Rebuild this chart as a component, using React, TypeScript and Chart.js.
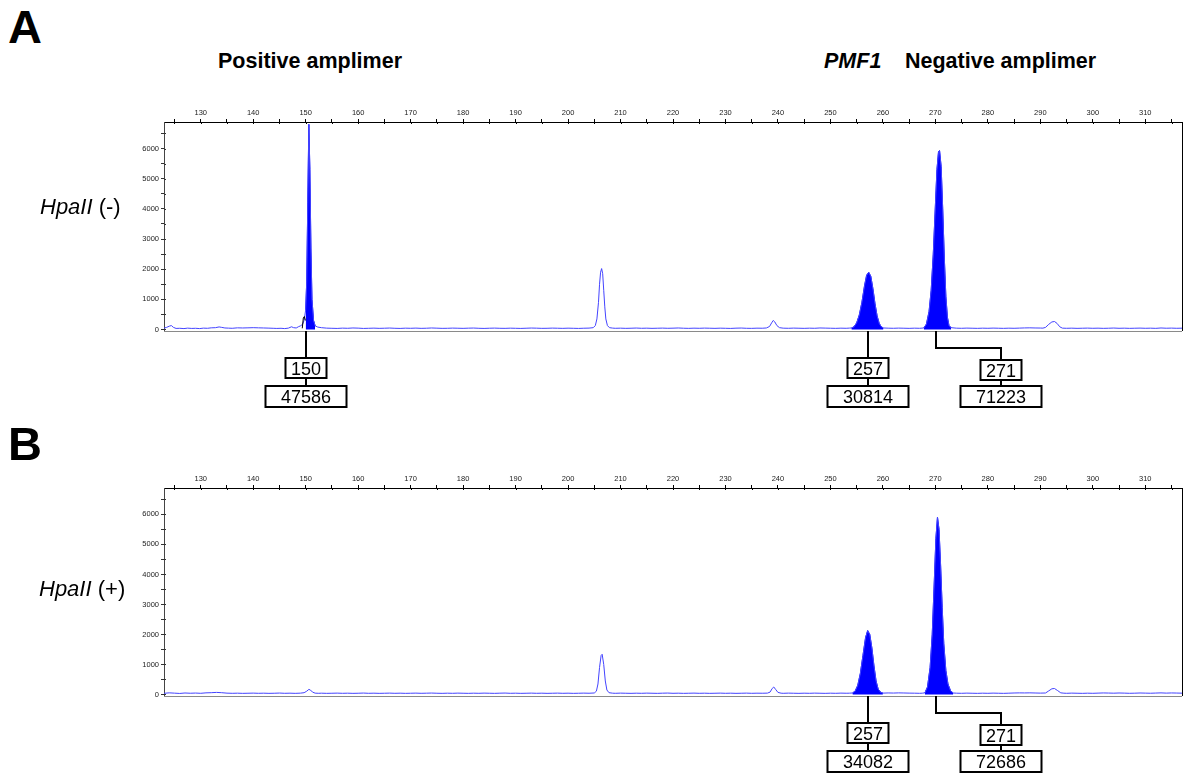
import React, { useEffect, useRef } from "react";
import { Chart, registerables } from "chart.js";

Chart.register(...registerables);

// ---------- data ----------
const sizeMin = 123;
const sizeMax = 317;
const rfuMin = -50;
const rfuMax = 6880;
const sizeTicks = [125, 130, 135, 140, 145, 150, 155, 160, 165, 170, 175, 180, 185, 190, 195, 200, 205, 210, 215, 220, 225, 230, 235, 240, 245, 250, 255, 260, 265, 270, 275, 280, 285, 290, 295, 300, 305, 310, 315];
const rfuTicks = [0, 500, 1000, 1500, 2000, 2500, 3000, 3500, 4000, 4500, 5000, 5500, 6000, 6500];

// Panel A: HpaII (-) electropherogram trace [size (bp), RFU]
const traceA: [number, number][] = [
  [123, 45], [123.5, 70], [124, 110], [124.4, 130], [124.8, 70], [125.3, 35], [126, 40], [126.8, 30], [127.5, 45], [128.3, 35],
  [129, 40], [129.8, 30], [130.5, 45], [131.3, 40], [132, 55], [132.8, 60], [133.5, 85], [134, 70], [134.6, 50], [135.3, 45],
  [136, 40], [137, 55], [138, 50], [139, 55], [140, 60], [141, 55], [142, 50], [143, 45], [143.8, 40], [144.5, 35],
  [145.3, 40], [146, 30], [146.7, 45], [147.3, 90], [147.7, 60], [148.2, 50], [148.6, 90], [149.0, 120], [149.4, 170], [149.7, 300],
  [150.0, 650], [150.2, 1600], [150.4, 4200], [150.6, 6800], [150.8, 5300], [151.0, 2700], [151.2, 1000], [151.5, 300], [151.8, 120], [152.3, 80],
  [153, 60], [154, 45], [155, 40], [156, 35], [157, 45], [158, 40], [159, 50], [160, 45], [161, 35], [162, 40],
  [163, 45], [164, 38], [165, 42], [166, 48], [167, 40], [168, 36], [169, 44], [170, 40], [171, 46], [172, 38],
  [173, 42], [174, 50], [175, 44], [176, 38], [177, 40], [178, 46], [179, 42], [180, 38], [181, 44], [182, 48],
  [183, 40], [184, 36], [185, 42], [186, 46], [187, 40], [188, 38], [189, 44], [190, 40], [191, 36], [192, 42],
  [193, 48], [194, 44], [195, 38], [196, 40], [197, 46], [198, 42], [199, 38], [200, 44], [201, 40], [202, 36],
  [203, 42], [204, 46], [204.8, 60], [205.2, 130], [205.5, 350], [205.8, 900], [206.0, 1500], [206.2, 1900], [206.4, 2020], [206.6, 1850],
  [206.8, 1300], [207.0, 750], [207.2, 350], [207.5, 130], [207.9, 60], [208.5, 46], [209, 40], [210, 44], [211, 38], [212, 42],
  [213, 48], [214, 40], [215, 44], [216, 38], [217, 42], [218, 46], [219, 40], [220, 44], [221, 50], [222, 42],
  [223, 38], [224, 44], [225, 40], [226, 46], [227, 42], [228, 38], [229, 44], [230, 40], [231, 36], [232, 44],
  [233, 48], [234, 40], [235, 38], [236, 44], [237, 42], [237.8, 50], [238.4, 100], [238.8, 220], [239.1, 300], [239.4, 250],
  [239.8, 130], [240.3, 60], [241, 44], [242, 40], [243, 46], [244, 42], [245, 38], [246, 44], [247, 40], [248, 50],
  [249, 46], [250, 42], [251, 38], [252, 44], [253, 40], [253.6, 46], [254.0, 50], [254.5, 90], [255.0, 220], [255.5, 480],
  [256.0, 900], [256.5, 1450], [256.9, 1800], [257.3, 1900], [257.7, 1760], [258.1, 1350], [258.5, 850], [258.9, 450], [259.3, 200], [259.7, 90],
  [260.1, 50], [261, 44], [262, 40], [263, 46], [264, 42], [265, 38], [266, 44], [267, 40], [267.8, 50], [268.3, 180],
  [268.8, 600], [269.2, 1300], [269.6, 2500], [270.0, 4100], [270.3, 5300], [270.6, 5900], [270.8, 5930], [271.1, 5400], [271.4, 4000], [271.7, 2400],
  [272.0, 1100], [272.3, 400], [272.6, 130], [273.0, 60], [274, 44], [275, 40], [276, 46], [277, 42], [278, 38], [279, 44],
  [280, 40], [281, 46], [282, 42], [283, 38], [284, 44], [285, 40], [286, 46], [287, 52], [288, 55], [289, 50],
  [290, 48], [290.5, 45], [291.0, 70], [291.6, 170], [292.2, 250], [292.7, 265], [293.2, 200], [293.7, 90], [294.2, 45], [295, 40],
  [296, 44], [297, 38], [298, 42], [299, 46], [300, 40], [301, 44], [302, 38], [303, 42], [304, 48], [305, 40],
  [306, 44], [307, 38], [308, 42], [309, 46], [310, 40], [311, 44], [312, 38], [313, 50], [314, 42], [315, 46],
  [316, 40], [317, 44],
];
// second dye (black) shoulder next to the 150 bp peak in panel A
const blackA: [number, number][] = [[149.35, 40], [149.55, 380], [149.75, 430], [149.95, 300]];
const fillRangesA: [number, number][] = [[150.0, 151.8], [254.0, 260.1], [267.8, 273.0]];
const calledSizesA = [150, 257, 271];
const peakAreasA = [47586, 30814, 71223];
const markerSizesA = [150.05, 257.2, 270.05];

// Panel B: HpaII (+) electropherogram trace
const traceB: [number, number][] = [
  [123, 40], [124, 55], [125, 45], [126, 35], [127, 50], [128, 42], [129, 48], [130, 40], [131, 55], [132, 60],
  [133, 70], [134, 60], [135, 45], [136, 40], [137, 44], [138, 38], [139, 42], [140, 46], [141, 40], [142, 44],
  [143, 38], [144, 42], [145, 48], [146, 40], [147, 44], [148, 38], [149, 45], [149.7, 60], [150.2, 110], [150.6, 170],
  [150.9, 150], [151.3, 80], [151.8, 45], [152.5, 40], [153, 44], [154, 38], [155, 42], [156, 46], [157, 40], [158, 44],
  [159, 38], [160, 42], [161, 48], [162, 40], [163, 44], [164, 38], [165, 42], [166, 46], [167, 40], [168, 44],
  [169, 38], [170, 42], [171, 46], [172, 40], [173, 44], [174, 48], [175, 42], [176, 38], [177, 44], [178, 40],
  [179, 46], [180, 42], [181, 38], [182, 44], [183, 40], [184, 46], [185, 42], [186, 38], [187, 44], [188, 48],
  [189, 40], [190, 44], [191, 38], [192, 42], [193, 46], [194, 40], [195, 44], [196, 38], [197, 42], [198, 46],
  [199, 40], [200, 44], [201, 38], [202, 42], [203, 46], [204, 42], [205, 50], [205.4, 110], [205.7, 350], [206.0, 900],
  [206.3, 1300], [206.5, 1340], [206.8, 1000], [207.1, 450], [207.4, 150], [207.8, 60], [208.5, 44], [209, 40], [210, 46], [211, 42],
  [212, 38], [213, 44], [214, 40], [215, 46], [216, 42], [217, 38], [218, 44], [219, 48], [220, 40], [221, 44],
  [222, 38], [223, 42], [224, 46], [225, 40], [226, 44], [227, 38], [228, 42], [229, 46], [230, 40], [231, 44],
  [232, 38], [233, 42], [234, 46], [235, 40], [236, 44], [237, 42], [238, 46], [238.5, 80], [238.9, 200], [239.2, 250],
  [239.6, 160], [240.0, 70], [240.6, 44], [241, 40], [242, 46], [243, 42], [244, 38], [245, 44], [246, 40], [247, 46],
  [248, 42], [249, 38], [250, 44], [251, 40], [252, 46], [253, 42], [253.6, 44], [254.2, 50], [254.7, 110], [255.2, 300],
  [255.7, 700], [256.2, 1300], [256.7, 1900], [257.1, 2130], [257.5, 2000], [257.9, 1550], [258.3, 950], [258.7, 450], [259.1, 180], [259.6, 70],
  [260.0, 46], [261, 52], [262, 48], [263, 54], [264, 50], [265, 46], [266, 44], [267, 40], [267.5, 44], [268.0, 55],
  [268.5, 250], [269.0, 900], [269.4, 2000], [269.8, 3800], [270.1, 5200], [270.4, 5910], [270.7, 5500], [271.0, 4300], [271.3, 2900], [271.6, 1700],
  [272.0, 800], [272.4, 350], [272.9, 120], [273.4, 50], [274, 44], [275, 40], [276, 46], [277, 42], [278, 38], [279, 44],
  [280, 40], [281, 46], [282, 42], [283, 38], [284, 44], [285, 50], [286, 54], [287, 52], [288, 55], [289, 50],
  [290, 46], [291, 50], [291.6, 120], [292.2, 190], [292.7, 200], [293.3, 130], [293.9, 55], [294.5, 44], [295, 40], [296, 46],
  [297, 42], [298, 38], [299, 44], [300, 40], [301, 46], [302, 52], [303, 48], [304, 44], [305, 50], [306, 46],
  [307, 40], [308, 44], [309, 50], [310, 46], [311, 42], [312, 48], [313, 54], [314, 46], [315, 52], [316, 48],
  [317, 44],
];
const blackB: [number, number][] = [];
const fillRangesB: [number, number][] = [[254.2, 260.0], [268.0, 273.4]];
const calledSizesB = [257, 271];
const peakAreasB = [34082, 72686];
const markerSizesB = [257.2, 270.05];

// ---------- styling / layout ----------
const FONT = '"Liberation Sans", Arial, Helvetica, sans-serif';
const TRACE_COLOR = "#4343ff";
const FILL_COLOR = "#0000ff";

const framePlugin = {
  id: "frame",
  afterDraw(chart: any, _args: any, opts: any) {
    const { ctx, chartArea, scales } = chart;
    const { left, right, top, bottom } = chartArea;
    const xs = scales.x;
    const ys = scales.y;
    ctx.save();
    // right and bottom frame
    ctx.lineWidth = 1;
    ctx.strokeStyle = "#000";
    ctx.beginPath();
    ctx.moveTo(Math.round(right) + 0.5, top);
    ctx.lineTo(Math.round(right) + 0.5, bottom);
    ctx.stroke();
    ctx.strokeStyle = "#8a8a8a";
    ctx.beginPath();
    ctx.moveTo(left, Math.round(bottom) + 0.5);
    ctx.lineTo(right, Math.round(bottom) + 0.5);
    ctx.stroke();
    // inner parts of the tick marks
    ctx.strokeStyle = "#000";
    ctx.beginPath();
    xs.ticks.forEach((t: any) => {
      const px = Math.round(xs.getPixelForValue(t.value)) + 0.5;
      ctx.moveTo(px, top);
      ctx.lineTo(px, top + 2);
    });
    ctx.stroke();
    ctx.strokeStyle = "#333";
    ctx.beginPath();
    ys.ticks.forEach((t: any) => {
      const py = Math.round(ys.getPixelForValue(t.value)) + 0.5;
      ctx.moveTo(left, py);
      ctx.lineTo(left + 2, py);
    });
    ctx.stroke();

    // peak call labels
    const sizes: number[] = opts.sizes;
    const areas: number[] = opts.areas;
    const markers: number[] = opts.markers;
    const shifts: number[] = opts.shifts;
    const b = Math.round(bottom);
    ctx.strokeStyle = "#000";
    ctx.fillStyle = "#000";
    ctx.lineWidth = 2;
    ctx.font = `18px ${FONT}`;
    ctx.textAlign = "center";
    ctx.textBaseline = "alphabetic";
    markers.forEach((m, i) => {
      const px = Math.round(xs.getPixelForValue(m));
      const shift = shifts[i] || 0;
      const bx = px + shift;
      const sizeTop = b + (shift ? 28 : 26);
      const areaTop = b + 54;
      ctx.beginPath();
      if (shift) {
        ctx.moveTo(px, b);
        ctx.lineTo(px, b + 17);
        ctx.lineTo(bx, b + 17);
        ctx.lineTo(bx, sizeTop);
      } else {
        ctx.moveTo(px, b);
        ctx.lineTo(px, sizeTop);
      }
      ctx.moveTo(bx, sizeTop + 22);
      ctx.lineTo(bx, areaTop);
      ctx.stroke();
      ctx.strokeRect(bx - 20.5, sizeTop + 1, 41, 20);
      ctx.strokeRect(bx - 40.5, areaTop + 1, 81, 21);
      ctx.fillText(String(sizes[i]), bx, sizeTop + 11 + 6.5);
      ctx.fillText(String(areas[i]), bx, areaTop + 11.5 + 6.5);
    });
    ctx.restore();
  },
};

function pts(arr: [number, number][]) {
  return arr.map(([x, y]) => ({ x, y }));
}

function makeConfig(
  trace: [number, number][],
  black: [number, number][],
  fillRanges: [number, number][],
  sizes: number[],
  areas: number[],
  markers: number[],
  shifts: number[],
  padBottom: number
): any {
  const fills = fillRanges.map(([a, z]) => ({
    data: pts(trace.filter(([x]) => x >= a && x <= z)),
    showLine: true,
    fill: "origin",
    backgroundColor: FILL_COLOR,
    borderColor: FILL_COLOR,
    borderWidth: 1,
    pointRadius: 0,
    tension: 0,
    order: 2,
  }));
  const tickFont = { family: FONT, size: 7.5 };
  return {
    type: "scatter",
    data: {
      datasets: [
        ...fills,
        {
          data: pts(trace),
          showLine: true,
          fill: false,
          borderColor: TRACE_COLOR,
          borderWidth: 1,
          pointRadius: 0,
          tension: 0,
          order: 1,
        },
        {
          data: pts(black),
          showLine: true,
          fill: false,
          borderColor: "#000",
          borderWidth: 1,
          pointRadius: 0,
          tension: 0,
          order: 0,
        },
      ],
    },
    options: {
      animation: false,
      responsive: false,
      devicePixelRatio: 1,
      layout: { padding: { left: 0, right: 5, top: 0, bottom: padBottom } },
      plugins: {
        legend: { display: false },
        tooltip: { enabled: false },
        frame: { sizes, areas, markers, shifts },
      },
      scales: {
        x: {
          type: "linear",
          position: "top",
          min: sizeMin,
          max: sizeMax,
          afterBuildTicks: (s: any) => {
            s.ticks = sizeTicks.map((v) => ({ value: v }));
          },
          afterFit: (s: any) => {
            s.height = 37;
          },
          ticks: {
            autoSkip: false,
            maxRotation: 0,
            minRotation: 0,
            padding: 2,
            color: "#222",
            font: tickFont,
            callback: (v: number) => (v % 10 === 0 ? String(v) : ""),
          },
          grid: { drawOnChartArea: false, tickLength: 3, color: "#000" },
          border: { color: "#000", width: 1 },
        },
        y: {
          type: "linear",
          position: "left",
          min: rfuMin,
          max: rfuMax,
          afterBuildTicks: (s: any) => {
            s.ticks = rfuTicks.map((v) => ({ value: v }));
          },
          afterFit: (s: any) => {
            s.width = 164;
          },
          ticks: {
            autoSkip: false,
            padding: 2,
            color: "#222",
            font: tickFont,
            callback: (v: number) => (v % 1000 === 0 ? String(v) : ""),
          },
          grid: { drawOnChartArea: false, tickLength: 3, color: "#333" },
          border: { color: "#444", width: 1 },
        },
      },
    },
    plugins: [framePlugin],
  };
}

function Panel(props: {
  top: number;
  height: number;
  trace: [number, number][];
  black: [number, number][];
  fillRanges: [number, number][];
  sizes: number[];
  areas: number[];
  markers: number[];
  shifts: number[];
  padBottom: number;
}) {
  const ref = useRef<HTMLCanvasElement | null>(null);
  useEffect(() => {
    if (!ref.current) return;
    const chart = new Chart(
      ref.current,
      makeConfig(
        props.trace,
        props.black,
        props.fillRanges,
        props.sizes,
        props.areas,
        props.markers,
        props.shifts,
        props.padBottom
      )
    );
    return () => chart.destroy();
  }, []);
  return (
    <canvas
      ref={ref}
      width={1187}
      height={props.height}
      style={{ position: "absolute", left: 0, top: props.top, width: 1187, height: props.height, display: "block" }}
    />
  );
}

const textBase: React.CSSProperties = {
  position: "absolute",
  fontFamily: FONT,
  lineHeight: 1,
  whiteSpace: "nowrap",
  color: "#000",
  margin: 0,
};

export default function App() {
  return (
    <div style={{ position: "absolute", left: 0, top: 0, width: 1187, height: 773, background: "#fff", overflow: "hidden" }}>
      <Panel
        top={85}
        height={330}
        trace={traceA}
        black={blackA}
        fillRanges={fillRangesA}
        sizes={calledSizesA}
        areas={peakAreasA}
        markers={markerSizesA}
        shifts={[0, 0, 65]}
        padBottom={84}
      />
      <Panel
        top={451}
        height={322}
        trace={traceB}
        black={blackB}
        fillRanges={fillRangesB}
        sizes={calledSizesB}
        areas={peakAreasB}
        markers={markerSizesB}
        shifts={[0, 65]}
        padBottom={77}
      />
      <div style={{ ...textBase, left: 8, top: 2.7, fontSize: 47, fontWeight: 700 }}>A</div>
      <div style={{ ...textBase, left: 8, top: 420, fontSize: 47, fontWeight: 700 }}>B</div>
      <div style={{ ...textBase, left: 218, top: 51.3, fontSize: 21.5, fontWeight: 700 }}>Positive amplimer</div>
      <div style={{ ...textBase, left: 824, top: 51.3, fontSize: 21.5, fontWeight: 700, fontStyle: "italic" }}>PMF1</div>
      <div style={{ ...textBase, left: 905, top: 51.3, fontSize: 21.5, fontWeight: 700 }}>Negative amplimer</div>
      <div style={{ ...textBase, left: 40, top: 196.4, fontSize: 22 }}>
        <i>HpaII</i> (-)
      </div>
      <div style={{ ...textBase, left: 39, top: 578, fontSize: 22 }}>
        <i>HpaII</i> (+)
      </div>
    </div>
  );
}
